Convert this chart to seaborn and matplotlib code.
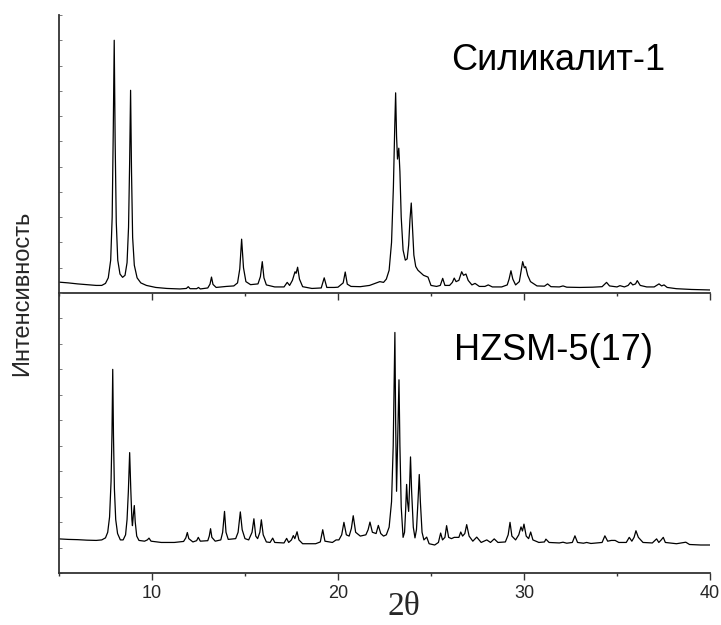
import numpy as np
import pandas as pd
import matplotlib
matplotlib.use("Agg")
import matplotlib.pyplot as plt
from matplotlib.ticker import MultipleLocator, NullFormatter
import seaborn as sns

# ---- Silicalite-1 diffractogram (2θ, intensity in arbitrary units) ----
sil_2theta = [
    5.0, 5.5, 6.0, 6.5, 7.0, 7.3, 7.5, 7.65, 7.78, 7.86, 7.92, 7.97, 8.02, 8.08,
    8.16, 8.28, 8.42, 8.55, 8.66, 8.74, 8.80, 8.85, 8.90, 8.96, 9.05, 9.2, 9.4,
    9.7, 10.2, 10.8, 11.5, 11.85, 11.95, 12.05, 12.4, 12.5, 12.6, 13.0, 13.12,
    13.2, 13.28, 13.45, 14.0, 14.4, 14.6, 14.72, 14.82, 14.92, 15.05, 15.3, 15.7,
    15.83, 15.93, 16.02, 16.15, 16.6, 17.1, 17.27, 17.4, 17.55, 17.69, 17.75,
    17.83, 17.93, 18.1, 18.6, 19.1, 19.26, 19.4, 19.8, 20.0, 20.28, 20.39, 20.5,
    20.7, 21.2, 21.7, 22.0, 22.25, 22.45, 22.6, 22.75, 22.88, 22.98, 23.05, 23.1,
    23.15, 23.2, 23.27, 23.33, 23.4, 23.5, 23.62, 23.72, 23.8, 23.87, 23.94, 24.0,
    24.08, 24.18, 24.3, 24.45, 24.6, 24.84, 25.0, 25.3, 25.5, 25.63, 25.75, 26.0,
    26.15, 26.25, 26.35, 26.5, 26.65, 26.75, 26.88, 27.0, 27.2, 27.37, 27.6, 27.9,
    28.08, 28.3, 28.8, 29.1, 29.2, 29.3, 29.4, 29.55, 29.75, 29.85, 29.93, 30.02,
    30.09, 30.2, 30.35, 30.7, 31.1, 31.27, 31.45, 31.9, 32.1, 32.3, 33.0, 33.7,
    34.2, 34.44, 34.6, 35.0, 35.16, 35.4, 35.6, 35.73, 35.85, 36.0, 36.09, 36.25,
    36.6, 37.0, 37.26, 37.4, 37.53, 37.7, 38.2, 39.0, 40.0,
]
sil_intensity = [
    0.43, 0.40, 0.36, 0.33, 0.30, 0.30, 0.38, 0.60, 1.30, 3.00, 6.50, 10.00, 6.00, 2.80,
    1.30, 0.75, 0.62, 0.70, 1.20, 2.60, 5.20, 8.02, 4.80, 2.20, 1.10, 0.60, 0.40,
    0.30, 0.22, 0.18, 0.16, 0.18, 0.25, 0.17, 0.17, 0.22, 0.16, 0.20, 0.35,
    0.63, 0.34, 0.22, 0.26, 0.28, 0.40, 0.95, 2.13, 1.00, 0.45, 0.33, 0.36,
    0.65, 1.24, 0.60, 0.32, 0.24, 0.24, 0.42, 0.30, 0.50, 0.84, 0.78,
    1.02, 0.55, 0.25, 0.18, 0.20, 0.60, 0.22, 0.22, 0.23, 0.40, 0.83, 0.35,
    0.26, 0.25, 0.30, 0.38, 0.45, 0.42, 0.55, 0.90, 2.00, 4.20, 6.50, 7.92,
    6.20, 5.30, 5.73, 4.80, 3.00, 1.70, 1.30, 1.35, 1.90, 2.90, 3.56, 2.70,
    1.50, 1.05, 0.90, 0.80, 0.70, 0.63, 0.30, 0.26, 0.30, 0.58, 0.30, 0.30,
    0.42, 0.59, 0.45, 0.50, 0.84, 0.70, 0.75, 0.50, 0.32, 0.38, 0.26, 0.26,
    0.32, 0.24, 0.24, 0.32, 0.55, 0.88, 0.55, 0.32, 0.45, 0.90, 1.24, 1.00,
    1.04, 0.70, 0.45, 0.28, 0.27, 0.36, 0.25, 0.24, 0.28, 0.23, 0.22, 0.23,
    0.25, 0.42, 0.28, 0.24, 0.29, 0.24, 0.30, 0.42, 0.32, 0.36, 0.49, 0.30,
    0.24, 0.24, 0.36, 0.28, 0.32, 0.22, 0.17, 0.14, 0.12,
]

# ---- HZSM-5(17) diffractogram ----
hz_2theta = [
    5.0, 5.5, 6.0, 6.5, 7.0, 7.3, 7.5, 7.62, 7.72, 7.8, 7.85, 7.89, 7.93, 7.98,
    8.05, 8.15, 8.3, 8.45, 8.58, 8.66, 8.73, 8.8, 8.86, 8.92, 8.95, 9.0, 9.05,
    9.1, 9.18, 9.3, 9.6, 9.75, 9.84, 9.95, 10.5, 11.2, 11.7, 11.82, 11.9, 11.98,
    12.2, 12.4, 12.49, 12.6, 13.0, 13.08, 13.15, 13.22, 13.4, 13.7, 13.8, 13.9,
    13.98, 14.1, 14.5, 14.63, 14.75, 14.85, 15.0, 15.2, 15.38, 15.48, 15.58,
    15.68, 15.8, 15.88, 15.98, 16.15, 16.35, 16.49, 16.6, 17.1, 17.24, 17.35,
    17.5, 17.6, 17.68, 17.8, 17.9, 18.1, 18.8, 19.05, 19.18, 19.3, 19.7, 19.9,
    20.05, 20.2, 20.32, 20.45, 20.6, 20.72, 20.82, 20.95, 21.2, 21.5, 21.62,
    21.72, 21.85, 22.05, 22.17, 22.3, 22.45, 22.6, 22.75, 22.88, 22.97, 23.02,
    23.06, 23.1, 23.15, 23.22, 23.28, 23.33, 23.4, 23.5, 23.58, 23.64, 23.69,
    23.74, 23.8, 23.85, 23.9, 23.96, 24.05, 24.14, 24.22, 24.3, 24.37, 24.43,
    24.52, 24.62, 24.77, 24.9, 25.2, 25.4, 25.52, 25.62, 25.75, 25.84, 25.95,
    26.1, 26.25, 26.38, 26.5, 26.6, 26.7, 26.82, 26.92, 27.05, 27.25, 27.46,
    27.7, 28.0, 28.2, 28.4, 28.6, 29.0, 29.15, 29.25, 29.35, 29.55, 29.72, 29.84,
    29.92, 30.0, 30.12, 30.25, 30.36, 30.48, 30.8, 31.1, 31.18, 31.35, 31.9,
    32.1, 32.3, 32.6, 32.74, 32.88, 33.2, 33.37, 33.6, 34.2, 34.35, 34.5, 34.7,
    34.9, 35.1, 35.5, 35.66, 35.8, 35.92, 36.02, 36.15, 36.4, 36.9, 37.13,
    37.25, 37.38, 37.49, 37.6, 38.2, 38.7, 38.9, 39.5, 40.0,
]
hz_intensity = [
    1.34, 1.32, 1.31, 1.29, 1.28, 1.30, 1.38, 1.60, 2.20, 3.60, 5.50, 8.00, 5.40, 3.30,
    2.10, 1.55, 1.30, 1.30, 1.50, 2.10, 3.20, 4.73, 3.30, 2.10, 1.86, 2.30, 2.65,
    2.00, 1.45, 1.28, 1.25, 1.30, 1.37, 1.25, 1.20, 1.20, 1.24, 1.38, 1.59, 1.35,
    1.22, 1.27, 1.40, 1.25, 1.27, 1.45, 1.74, 1.40, 1.25, 1.30, 1.60, 2.42,
    1.60, 1.32, 1.35, 1.60, 2.40, 1.70, 1.35, 1.30, 1.60, 2.13, 1.45,
    1.35, 1.60, 2.09, 1.50, 1.22, 1.20, 1.37, 1.20, 1.18, 1.36, 1.20,
    1.30, 1.47, 1.35, 1.62, 1.30, 1.15, 1.15, 1.22, 1.70, 1.25, 1.20, 1.30,
    1.30, 1.50, 1.99, 1.50, 1.45, 1.75, 2.25, 1.60, 1.45, 1.50, 1.70,
    2.00, 1.60, 1.55, 1.87, 1.55, 1.45, 1.50, 1.80, 2.80, 5.00, 7.50,
    9.45, 6.00, 3.21, 5.50, 7.59, 5.00, 2.60, 1.40, 1.60, 2.50, 3.48,
    2.80, 2.42, 3.40, 4.56, 3.20, 1.80, 1.38, 1.70, 2.80, 3.87, 2.80,
    1.60, 1.30, 1.41, 1.15, 1.10, 1.20, 1.57, 1.30, 1.40, 1.86, 1.40,
    1.35, 1.40, 1.40, 1.40, 1.61, 1.45, 1.55, 1.90, 1.45, 1.25, 1.41,
    1.20, 1.30, 1.20, 1.34, 1.20, 1.22, 1.50, 1.99, 1.45, 1.30, 1.50, 1.81,
    1.65, 1.92, 1.45, 1.35, 1.61, 1.30, 1.20, 1.22, 1.33, 1.20, 1.18,
    1.21, 1.17, 1.20, 1.46, 1.20, 1.17, 1.20, 1.16, 1.20, 1.46, 1.25, 1.28,
    1.28, 1.20, 1.20, 1.40, 1.25, 1.40, 1.66, 1.40, 1.20, 1.18, 1.34,
    1.20, 1.30, 1.40, 1.20, 1.15, 1.21, 1.12, 1.10, 1.10,
]

sample_names = ["Силикалит-1", "HZSM-5(17)"]
x_ticks = [10, 20, 30, 40]

sns.set_style("ticks")
plt.rcParams["font.family"] = ["Liberation Sans", "DejaVu Sans"]

fig = plt.figure(figsize=(7.21, 6.25), dpi=100)
left, right = 0.0818, 0.9847
ax_top = fig.add_axes([left, 0.5312, right - left, 0.976 - 0.5312])
ax_bot = fig.add_axes([left, 0.0832, right - left, 0.5312 - 0.0832], sharex=ax_top)

traces = [
    (ax_top, sil_2theta, sil_intensity, sample_names[0], (31.85, 9.2)),
    (ax_bot, hz_2theta, hz_intensity, sample_names[1], (31.6, 8.73)),
]

spine_color = "#333333"
for ax, tt, ii, name, (tx, ty) in traces:
    df = pd.DataFrame({"2theta": tt, "I": ii})
    sns.lineplot(data=df, x="2theta", y="I", ax=ax, color="black",
                 linewidth=0.9, estimator=None, sort=True)
    ax.set_xlim(5, 40)
    ax.set_ylim(0, 11)
    ax.set_xlabel("")
    ax.set_ylabel("")
    for side in ("top", "right"):
        ax.spines[side].set_visible(False)
    for side in ("left", "bottom"):
        ax.spines[side].set_color(spine_color)
        ax.spines[side].set_linewidth(1.3)
    ax.yaxis.set_major_locator(MultipleLocator(1))
    ax.yaxis.set_major_formatter(NullFormatter())
    ax.tick_params(axis="y", which="major", direction="in", length=2,
                   width=0.6, color="#666666")
    ax.xaxis.set_major_locator(MultipleLocator(10))
    ax.xaxis.set_minor_locator(MultipleLocator(5))
    ax.tick_params(axis="x", which="major", direction="out", length=5,
                   width=1.0, color=spine_color, labelsize=13, pad=4)
    ax.tick_params(axis="x", which="minor", direction="out", length=2.5,
                   width=1.0, color=spine_color)
    ax.text(tx, ty, name, ha="center", va="center", fontsize=26,
            color="black")
    ax.patch.set_alpha(0)

ax_top.tick_params(axis="x", which="both", labelbottom=False)
ax_bot.set_xticks(x_ticks)
ax_bot.set_xticklabels([str(v) for v in x_ticks])

fig.text(0.0305, 0.531, "Интенсивность", rotation=90, ha="center",
         va="center", fontsize=17)
fig.text(0.56, 0.029, "2θ", ha="center", va="center", fontsize=24,
         family=["Liberation Serif", "DejaVu Serif"])

fig.savefig("out.png", dpi=100)
